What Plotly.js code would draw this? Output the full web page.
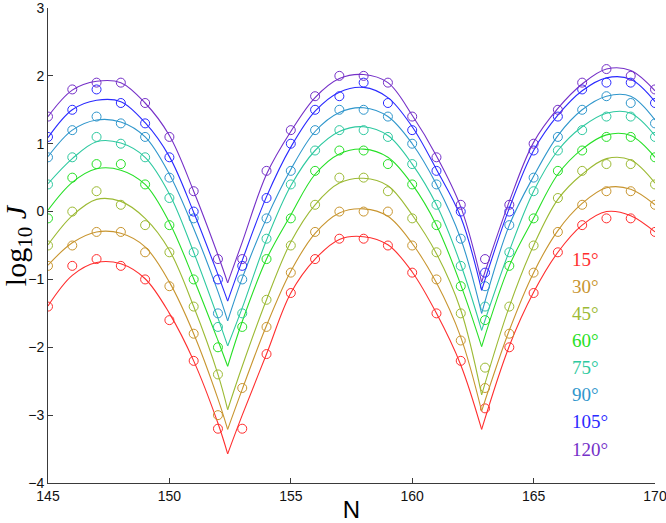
<!DOCTYPE html>
<html>
<head>
<meta charset="utf-8">
<script src="https://cdn.plot.ly/plotly-3.0.1.min.js"></script>
<style>
  html, body { margin: 0; padding: 0; background: #fff; }
  #chart { width: 666px; height: 523px; }
</style>
</head>
<body>
<div id="chart"></div>
<script>
// Measured points (integer N)
const N_POINTS = [145, 146, 147, 148, 149, 150, 151, 152, 153, 154, 155, 156, 157,
                  158, 159, 160, 161, 162, 163, 164, 165, 166, 167, 168, 169, 170];

const DATA_15  = [-1.4, -0.8, -0.7, -0.8, -1.0, -1.6, -2.2, -3.2, -3.2, -2.1, -1.2, -0.7, -0.4,
                  -0.4, -0.5, -0.9, -1.5, -2.2, -2.9, -2.0, -1.2, -0.6, -0.2, -0.1, -0.1, -0.3];
const DATA_30  = [-0.8, -0.5, -0.3, -0.3, -0.6, -1.1, -1.8, -3.0, -2.6, -1.7, -0.9, -0.3, 0.0,
                  0.0, 0.0, -0.5, -1.0, -1.9, -2.6, -1.8, -0.9, -0.3, 0.1, 0.3, 0.3, 0.1];
const DATA_45  = [-0.5, 0.0, 0.3, 0.1, -0.2, -0.6, -1.4, -2.4, null, -1.3, -0.5, 0.1, 0.5,
                  0.5, 0.3, -0.1, -0.6, -1.5, -2.3, -1.4, -0.5, 0.2, 0.6, 0.7, 0.7, 0.4];
const DATA_60  = [-0.1, 0.5, 0.7, 0.7, 0.4, -0.2, -1.0, -2.0, -1.7, -0.7, -0.1, 0.6, 0.9,
                  0.9, 0.7, 0.4, -0.2, -1.1, -1.6, -0.8, -0.1, 0.6, 0.9, 1.1, 1.1, 0.8];
const DATA_75  = [0.4, 0.8, 1.1, 1.0, 0.8, 0.2, -0.6, -1.7, -1.5, -0.4, 0.4, 0.9, 1.2,
                  1.2, 1.1, 0.7, 0.1, -0.8, -1.4, -0.6, 0.3, 0.9, 1.2, 1.4, 1.4, 1.1];
const DATA_90  = [0.8, 1.2, 1.4, 1.3, 1.1, 0.5, -0.1, -1.5, -1.0, -0.1, 0.6, 1.2, 1.5,
                  1.5, 1.4, 1.0, 0.4, -0.4, -1.1, -0.2, 0.5, 1.1, 1.5, 1.7, 1.6, 1.3];
const DATA_105 = [1.1, 1.5, 1.8, 1.6, 1.3, 0.8, 0.0, -1.0, -0.8, 0.2, 1.0, 1.5, 1.7,
                  1.9, 1.6, 1.2, 0.6, 0.0, -0.9, 0.0, 0.9, 1.4, 1.8, 1.9, 1.9, 1.6];
const DATA_120 = [1.4, 1.8, 1.9, 1.9, 1.6, 1.1, 0.3, -0.7, -0.7, 0.6, 1.2, 1.7, 2.0,
                  2.0, 1.9, 1.4, 0.8, 0.1, -0.7, 0.1, 1.0, 1.5, 1.9, 2.1, 2.0, 1.8];

// Fitted curves (null splits the three arcs at the cusps)
const CURVE_N = [145, 146, 147, 148, 149, 150, 151, 152, 152.4, null,
                 152.4, 153, 154, 155, 156, 157, 158, 159, 160, 161, 162, 162.86, null,
                 162.86, 164, 165, 166, 167, 168, 169, 170];

const FIT_15  = [-1.39, -0.94, -0.75, -0.77, -0.99, -1.50, -2.20, -3.12, -3.57, null,
                 -3.57, -3.00, -2.10, -1.20, -0.70, -0.41, -0.37, -0.49, -0.89, -1.50, -2.26, -3.21, null,
                 -3.21, -1.98, -1.19, -0.60, -0.20, 0.00, -0.06, -0.30];
const FIT_30  = [-0.79, -0.46, -0.30, -0.32, -0.52, -1.04, -1.80, -2.76, -3.21, null,
                 -3.21, -2.62, -1.68, -0.88, -0.32, -0.02, 0.04, -0.07, -0.47, -1.05, -1.85, -2.94, null,
                 -2.94, -1.75, -0.90, -0.28, 0.12, 0.35, 0.33, 0.10];
const FIT_45  = [-0.49, -0.06, 0.18, 0.15, -0.10, -0.57, -1.40, -2.40, -2.92, null,
                 -2.92, -2.28, -1.30, -0.45, 0.10, 0.42, 0.49, 0.38, -0.05, -0.62, -1.45, -2.70, null,
                 -2.70, -1.40, -0.50, 0.18, 0.55, 0.78, 0.76, 0.42];
const FIT_60  = [0.02, 0.43, 0.63, 0.61, 0.40, -0.16, -0.99, -1.90, -2.28, null,
                 -2.28, -1.62, -0.70, -0.05, 0.55, 0.85, 0.92, 0.80, 0.40, -0.20, -1.08, -1.99, null,
                 -1.99, -0.80, -0.10, 0.55, 0.92, 1.13, 1.12, 0.80];
const FIT_75  = [0.41, 0.78, 1.03, 1.01, 0.80, 0.26, -0.60, -1.57, -1.98, null,
                 -1.98, -1.42, -0.42, 0.38, 0.90, 1.18, 1.25, 1.12, 0.70, 0.10, -0.78, -1.75, null,
                 -1.75, -0.58, 0.30, 0.90, 1.25, 1.45, 1.45, 1.12];
const FIT_90  = [0.81, 1.20, 1.35, 1.32, 1.10, 0.55, -0.25, -1.18, -1.61, null,
                 -1.61, -0.98, -0.10, 0.62, 1.18, 1.46, 1.53, 1.40, 1.00, 0.40, -0.40, -1.50, null,
                 -1.50, -0.20, 0.52, 1.12, 1.50, 1.70, 1.70, 1.35];
const FIT_105 = [1.09, 1.50, 1.64, 1.62, 1.31, 0.81, -0.01, -0.93, -1.32, null,
                 -1.32, -0.72, 0.22, 0.95, 1.48, 1.76, 1.83, 1.68, 1.25, 0.62, -0.08, -1.16, null,
                 -1.16, 0.05, 0.90, 1.42, 1.78, 1.97, 1.95, 1.62];
const FIT_120 = [1.40, 1.79, 1.92, 1.90, 1.60, 1.12, 0.30, -0.64, -1.05, null,
                 -1.05, -0.45, 0.55, 1.18, 1.68, 1.96, 2.02, 1.90, 1.42, 0.82, 0.07, -1.04, null,
                 -1.04, 0.15, 1.02, 1.52, 1.88, 2.10, 2.08, 1.78];

const ANGLE_LABELS = ['15°', '30°', '45°', '60°', '75°', '90°', '105°', '120°'];

const COLORS = ['#ff2e2e', '#c8952f', '#9cba34', '#26e026', '#2ec9a0', '#2f96cc', '#2a2aff', '#7530c8'];

const SERIES = [
    { data: DATA_15,  fit: FIT_15 },
    { data: DATA_30,  fit: FIT_30 },
    { data: DATA_45,  fit: FIT_45 },
    { data: DATA_60,  fit: FIT_60 },
    { data: DATA_75,  fit: FIT_75 },
    { data: DATA_90,  fit: FIT_90 },
    { data: DATA_105, fit: FIT_105 },
    { data: DATA_120, fit: FIT_120 }
];

const AXIS_COLOR = '#3a3a3a';
const TICK_FONT = { family: 'Liberation Sans, Arial, sans-serif', size: 14, color: '#111' };

function buildTraces() {
    const traces = [];
    SERIES.forEach((s, i) => {
        traces.push({
            x: CURVE_N,
            y: s.fit,
            type: 'scatter',
            mode: 'lines',
            line: { color: COLORS[i], width: 1.1, shape: 'spline', smoothing: 1 },
            connectgaps: false,
            hoverinfo: 'skip'
        });
        traces.push({
            x: N_POINTS,
            y: s.data,
            type: 'scatter',
            mode: 'markers',
            marker: { symbol: 'circle-open', size: 9, color: COLORS[i], line: { width: 1 } },
            hoverinfo: 'skip'
        });
    });
    return traces;
}

function buildLabels() {
    // angle labels stacked in the lower right, like the original
    const notes = ANGLE_LABELS.map((label, i) => ({
        text: label,
        xref: 'x', yref: 'y',
        x: 166.5, y: -0.7 - 0.4 * i,
        xanchor: 'left', yanchor: 'middle',
        showarrow: false,
        font: { family: 'Liberation Serif, Times New Roman, serif', size: 19, color: COLORS[i] }
    }));
    notes.push({
        text: 'log<sub>10</sub> <i>J</i>',
        xref: 'paper', yref: 'paper',
        x: -0.05, y: 0.5,
        xanchor: 'center', yanchor: 'middle',
        textangle: -90,
        showarrow: false,
        font: { family: 'Liberation Serif, Times New Roman, serif', size: 30, color: '#000' }
    });
    return notes;
}

const layout = {
    width: 666,
    height: 523,
    margin: { l: 48, r: 11, t: 8, b: 40 },
    paper_bgcolor: '#fff',
    plot_bgcolor: '#fff',
    showlegend: false,
    hovermode: false,
    xaxis: {
        range: [145, 170],
        tickvals: [145, 150, 155, 160, 165, 170],
        ticks: 'inside',
        ticklen: 5,
        tickcolor: AXIS_COLOR,
        showline: true,
        linecolor: AXIS_COLOR,
        linewidth: 1,
        showgrid: false,
        zeroline: false,
        ticklabeloverflow: 'allow',
        tickfont: TICK_FONT,
        title: { text: 'N', font: { family: 'Liberation Sans, Arial, sans-serif', size: 24, color: '#000' }, standoff: 2 }
    },
    yaxis: {
        range: [-4, 3],
        dtick: 1,
        ticks: 'inside',
        ticklen: 5,
        tickcolor: AXIS_COLOR,
        showline: true,
        linecolor: AXIS_COLOR,
        linewidth: 1,
        showgrid: false,
        zeroline: false,
        ticklabeloverflow: 'allow',
        tickfont: TICK_FONT
    },
    annotations: buildLabels()
};

Plotly.newPlot('chart', buildTraces(), layout, { displayModeBar: false, staticPlot: true });
</script>
</body>
</html>
